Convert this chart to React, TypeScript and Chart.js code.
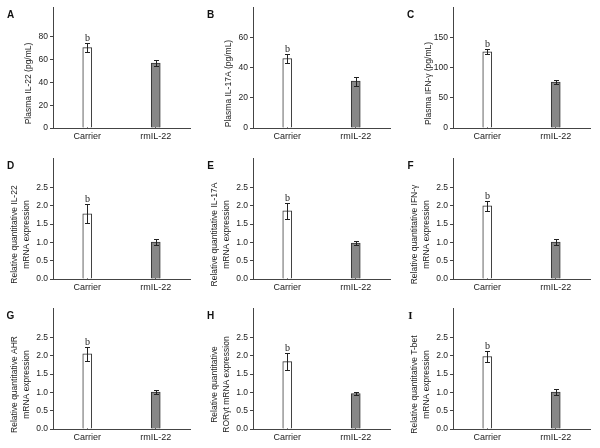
import React, { useEffect, useRef } from "react";
import { Chart, registerables } from "chart.js";

Chart.register(...registerables);

// ---------- data ----------
const categories = ["Carrier", "rmIL-22"];
const sigMarks = ["b", ""];

const panelLetters = ["A", "B", "C", "D", "E", "F", "G", "H", "I"];

const plasmaIL22 = [70.5, 57];
const plasmaIL22Err = [4, 3];
const plasmaIL17A = [46, 31];
const plasmaIL17AErr = [3, 3];
const plasmaIFNg = [126, 76];
const plasmaIFNgErr = [4, 3];

const mrnaIL22 = [1.78, 1.01];
const mrnaIL22Err = [0.26, 0.07];
const mrnaIL17A = [1.86, 0.98];
const mrnaIL17AErr = [0.21, 0.06];
const mrnaIFNg = [2.0, 1.01];
const mrnaIFNgErr = [0.14, 0.07];
const mrnaAHR = [2.05, 1.01];
const mrnaAHRErr = [0.19, 0.06];
const mrnaRORgt = [1.84, 0.97];
const mrnaRORgtErr = [0.23, 0.05];
const mrnaTbet = [1.98, 1.01];
const mrnaTbetErr = [0.14, 0.07];

const yTitles = [
  ["Plasma IL-22 (pg/mL)"],
  ["Plasma IL-17A (pg/mL)"],
  ["Plasma IFN-γ (pg/mL)"],
  ["Relative quantitative IL-22", "mRNA expression"],
  ["Relative quantitative IL-17A", "mRNA expression"],
  ["Relative quantitative IFN-γ", "mRNA expression"],
  ["Relative quantitative AHR", "mRNA expression"],
  ["Relative quantitative", "RORγt mRNA expression"],
  ["Relative quantitative T-bet", "mRNA expression"],
];

// axis ranges
const yAxisMax = [106, 80, 200, 3.3, 3.3, 3.3, 3.3, 3.3, 3.3];
const yTickMax = [80, 60, 150, 2.5, 2.5, 2.5, 2.5, 2.5, 2.5];
const yStep = [20, 20, 50, 0.5, 0.5, 0.5, 0.5, 0.5, 0.5];
const yDecimals = [0, 0, 0, 1, 1, 1, 1, 1, 1];

const panelValues = [plasmaIL22, plasmaIL17A, plasmaIFNg, mrnaIL22, mrnaIL17A, mrnaIFNg, mrnaAHR, mrnaRORgt, mrnaTbet];
const panelErrors = [plasmaIL22Err, plasmaIL17AErr, plasmaIFNgErr, mrnaIL22Err, mrnaIL17AErr, mrnaIFNgErr, mrnaAHRErr, mrnaRORgtErr, mrnaTbetErr];

// ---------- layout ----------
const CANVAS_W = 200;
const CANVAS_H = 147;
const rowTops = [0, 151, 301];
const FONT = "'Liberation Sans', Arial, sans-serif";
const TEXT = "#222";
const AXIS = "#444";

function Panel({ idx }: { idx: number }) {
  const ref = useRef<HTMLCanvasElement | null>(null);
  useEffect(() => {
    const canvas = ref.current;
    if (!canvas) return;
    const values = panelValues[idx];
    const errs = panelErrors[idx];
    const titleLines = yTitles[idx];
    const letter = panelLetters[idx];

    const overlay = {
      id: "overlay" + idx,
      afterDatasetsDraw(chart: any) {
        const ctx = chart.ctx;
        const meta = chart.getDatasetMeta(0);
        const ys = chart.scales.y;
        ctx.save();
        ctx.strokeStyle = "#222";
        ctx.lineWidth = 1;
        meta.data.forEach((el: any, i: number) => {
          const x = Math.round(el.x) + 0.5;
          const yt = Math.round(ys.getPixelForValue(values[i] + errs[i])) + 0.5;
          const yb = Math.round(ys.getPixelForValue(values[i] - errs[i])) + 0.5;
          ctx.beginPath();
          ctx.moveTo(x, yt);
          ctx.lineTo(x, yb);
          ctx.moveTo(x - 2.5, yt);
          ctx.lineTo(x + 2.5, yt);
          ctx.moveTo(x - 2.5, yb);
          ctx.lineTo(x + 2.5, yb);
          ctx.stroke();
          if (sigMarks[i]) {
            ctx.font = "10px 'Liberation Serif', serif";
            ctx.fillStyle = TEXT;
            ctx.textAlign = "center";
            ctx.textBaseline = "alphabetic";
            ctx.fillText(sigMarks[i], x, yt - 3);
          }
        });
        ctx.restore();
      },
      afterDraw(chart: any) {
        const ctx = chart.ctx;
        ctx.save();
        ctx.fillStyle = "#111";
        ctx.font = letter === "I" ? "bold 11px 'Liberation Serif', serif" : "bold 10px " + FONT;
        ctx.textAlign = "center";
        ctx.textBaseline = "middle";
        ctx.fillText(letter, 10.5, 15);
        ctx.fillStyle = TEXT;
        ctx.font = "8.5px " + FONT;
        const xs = titleLines.length === 1 ? [29] : [15, 27];
        titleLines.forEach((line: string, i: number) => {
          ctx.save();
          ctx.translate(xs[i], 83.5);
          ctx.rotate(-Math.PI / 2);
          ctx.textAlign = "center";
          ctx.textBaseline = "middle";
          ctx.fillText(line, 0, 0);
          ctx.restore();
        });
        ctx.restore();
      },
    };

    const chart = new Chart(canvas, {
      type: "bar",
      data: {
        labels: categories,
        datasets: [
          {
            data: values,
            backgroundColor: ["#ffffff", "#878787"],
            borderColor: "#333",
            borderWidth: 1,
            barThickness: 9,
          },
        ],
      },
      options: {
        responsive: false,
        animation: false,
        devicePixelRatio: 1,
        layout: { padding: { left: 0, right: 10, top: 7, bottom: 0 } },
        plugins: { legend: { display: false }, tooltip: { enabled: false }, title: { display: false } },
        scales: {
          x: {
            z: 1,
            offset: true,
            grid: {
              display: true,
              offset: false,
              drawOnChartArea: false,
              drawTicks: true,
              tickLength: -3,
              color: "#444",
            },
            border: { display: true, color: AXIS, width: 1 },
            ticks: { color: TEXT, font: { family: FONT, size: 9 }, padding: 6, maxRotation: 0 },
            afterFit: (s: any) => {
              s.height = CANVAS_H - 128;
            },
          },
          y: {
            min: 0,
            max: yAxisMax[idx],
            grid: { display: true, drawOnChartArea: false, drawTicks: true, tickLength: 3, color: AXIS },
            border: { display: true, color: AXIS, width: 1 },
            ticks: {
              stepSize: yStep[idx],
              color: TEXT,
              font: { family: FONT, size: 8.5 },
              padding: 2,
              callback: (v: any) => Number(v).toFixed(yDecimals[idx]),
            },
            afterBuildTicks: (axis: any) => {
              axis.ticks = axis.ticks.filter((t: any) => t.value <= yTickMax[idx] + 1e-9);
            },
            afterFit: (s: any) => {
              s.width = 53;
            },
          },
        },
      },
      plugins: [overlay],
    });
    return () => chart.destroy();
  }, [idx]);

  const col = idx % 3;
  const row = Math.floor(idx / 3);
  return (
    <canvas
      ref={ref}
      width={CANVAS_W}
      height={CANVAS_H}
      style={{ position: "absolute", left: col * 200, top: rowTops[row], width: CANVAS_W, height: CANVAS_H }}
    />
  );
}

export default function App() {
  return (
    <div style={{ position: "absolute", left: 0, top: 0, width: 600, height: 448, background: "#fff", overflow: "hidden" }}>
      {panelLetters.map((_, i) => (
        <Panel key={i} idx={i} />
      ))}
    </div>
  );
}
